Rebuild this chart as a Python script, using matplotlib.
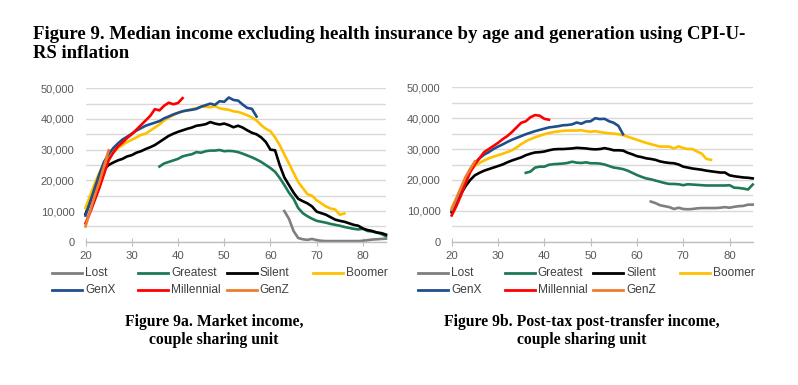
import matplotlib.pyplot as plt
from matplotlib.lines import Line2D

# ---- data ----
ages_lost = list(range(63, 86))
ages_greatest = list(range(36, 86))
ages_silent = list(range(20, 86))
ages_boomer = list(range(20, 77))
ages_genx = list(range(20, 58))
ages_millennial = list(range(20, 42))
ages_genz = list(range(20, 26))

# Figure 9a: market income
mkt_lost = [10000, 7500, 3500, 1200, 800, 600, 900, 500, 300, 200, 200, 200, 200, 200,
            200, 200, 200, 300, 500, 700, 800, 900, 1000]
mkt_greatest = [24500, 25500, 26000, 26500, 27000, 27800, 28200, 28500, 29200, 29000,
                29500, 29700, 29700, 29900, 29500, 29600, 29500, 29200, 28700, 28100,
                27500, 26800, 26000, 25000, 24000, 22800, 20800, 18500, 16000, 14000,
                11000, 9300, 8300, 7500, 6800, 6500, 6200, 5800, 5500, 5200,
                4800, 4500, 4200, 4000, 4200, 3500, 3300, 3000, 2500, 1800]
mkt_silent = [9000, 13000, 17000, 21000, 23500, 25000, 25800, 26500, 27000, 27800,
              28200, 29000, 29500, 30200, 30800, 31500, 32500, 33500, 34500, 35200,
              35800, 36300, 36800, 37200, 37800, 38000, 38300, 39000, 38500, 38200,
              38500, 38000, 37300, 37800, 37200, 36300, 35500, 35000, 34000, 32500,
              30000, 29800, 25000, 21000, 18500, 16000, 14000, 13200, 12500, 11500,
              9800, 9300, 8800, 8000, 7200, 6800, 6500, 6000, 5500, 5200,
              4300, 3800, 3500, 3000, 2800, 2300]
mkt_boomer = [11000, 15000, 19000, 22500, 25500, 27500, 29000, 30500, 31500, 32500,
              33200, 34000, 34800, 35200, 36200, 37200, 38200, 39500, 40500, 41200,
              42000, 42500, 42800, 43200, 43500, 44000, 44000, 43800, 44200, 43500,
              43200, 43000, 42500, 42300, 41800, 41200, 40500, 39500, 38000, 36800,
              36000, 34000, 31500, 28500, 25500, 22500, 19500, 17500, 15500, 15000,
              13500, 12500, 11500, 10800, 10500, 8800, 9200]
mkt_genx = [8500, 13000, 17500, 22000, 26000, 28500, 30500, 32000, 33300, 34200,
            35200, 36200, 37000, 37800, 38300, 38800, 39300, 40200, 40800, 41500,
            42000, 42500, 42800, 43000, 43300, 44000, 44500, 45000, 44600, 45800,
            45600, 47000, 46200, 46000, 44700, 43600, 43300, 40800]
mkt_millennial = [6000, 9500, 13500, 17500, 22000, 26500, 29000, 31000, 32300, 33800,
                  35000, 36500, 38000, 39500, 41000, 43200, 42800, 44300, 45300, 44800,
                  45200, 46800]
mkt_genz = [5000, 10000, 15000, 19500, 24500, 29800]

# Figure 9b: post-tax post-transfer income
ptt_lost = [13000, 12500, 11800, 11500, 11200, 10600, 11000, 10600, 10500, 10600,
            10800, 10900, 10900, 10900, 10900, 11000, 11200, 11000, 11300, 11500,
            11600, 12000, 12000]
ptt_greatest = [22300, 22700, 24000, 24300, 24300, 24900, 25100, 25200, 25300, 25500,
                25900, 25600, 25500, 25700, 25400, 25400, 25300, 25000, 24500, 24000,
                23800, 23500, 23000, 22300, 21600, 21000, 20500, 20200, 19800, 19400,
                19000, 18700, 18700, 18600, 18300, 18600, 18500, 18400, 18300, 18200,
                18200, 18200, 18200, 18200, 18300, 17500, 17400, 17200, 16900, 18500]
ptt_silent = [9500, 13000, 15500, 18000, 20000, 21500, 22300, 23000, 23500, 24000,
              24500, 25000, 25700, 26300, 26800, 27300, 28000, 28500, 28900, 29000,
              29200, 29600, 29900, 30000, 30000, 30100, 30200, 30400, 30300, 30200,
              30000, 29900, 30000, 30300, 30000, 29600, 29600, 29500, 28800, 28300,
              27700, 27400, 27000, 26800, 26500, 26000, 25700, 25500, 25400, 25000,
              24300, 24000, 23700, 23500, 23300, 23000, 22800, 22600, 22400, 22400,
              21500, 21200, 21000, 20800, 20700, 20500]
ptt_boomer = [11000, 14000, 17500, 20500, 23000, 24500, 25500, 26300, 27000, 27500,
              28000, 28500, 29000, 29600, 30500, 31600, 32500, 33200, 33800, 34300,
              34800, 35200, 35500, 35700, 35900, 36000, 36000, 36000, 36100, 35800,
              35600, 35800, 35500, 35300, 35100, 35000, 34800, 34500, 34000, 33500,
              33000, 32500, 32000, 31600, 31200, 30800, 30800, 30800, 30200, 30900,
              30300, 30000, 30000, 29200, 28500, 26800, 26500]
ptt_genx = [10000, 13500, 17000, 20500, 23500, 25500, 27000, 28200, 29000, 30000,
            30800, 31500, 32300, 33000, 33600, 34200, 34800, 35300, 35800, 36200,
            36600, 37000, 37200, 37400, 37700, 37800, 38000, 38600, 38200, 38900,
            39000, 40000, 39700, 39800, 39000, 38500, 37500, 34800]
ptt_millennial = [8500, 11500, 15000, 19000, 22500, 25000, 27000, 29000, 30000, 31000,
                  32000, 33200, 34200, 35500, 37000, 38500, 39000, 40300, 41000, 40800,
                  39800, 39500]
ptt_genz = [10500, 14000, 17500, 21000, 23500, 26000]

names = ["Lost", "Greatest", "Silent", "Boomer", "GenX", "Millennial", "GenZ"]
colors = ["#7f7f7f", "#1d7a55", "#000000", "#ffc000", "#1f4e8c", "#ff0000", "#ed7d31"]
ages = [ages_lost, ages_greatest, ages_silent, ages_boomer, ages_genx, ages_millennial, ages_genz]
market = [mkt_lost, mkt_greatest, mkt_silent, mkt_boomer, mkt_genx, mkt_millennial, mkt_genz]
posttax = [ptt_lost, ptt_greatest, ptt_silent, ptt_boomer, ptt_genx, ptt_millennial, ptt_genz]

plt.rcParams['font.family'] = ['Liberation Sans', 'DejaVu Sans']

fig = plt.figure(figsize=(7.98, 3.85), dpi=100)
W, H = 798, 385


def px_axes(x0, x1, ytop, ybot):
    return fig.add_axes([x0 / W, 1 - ybot / H, (x1 - x0) / W, (ybot - ytop) / H])


def style_axes(ax):
    ax.set_xlim(20, 85)
    ax.set_ylim(0, 50000)
    ax.set_xticks(range(20, 90, 10))
    ax.set_yticks(range(0, 50001, 10000))
    ax.set_yticks(range(0, 50001, 5000), minor=True)
    ax.set_yticklabels([f"{v:,}" for v in range(0, 50001, 10000)])
    ax.grid(axis='y', which='both', color='#d9d9d9', linewidth=1.0)
    ax.set_axisbelow(True)
    for s in ['top', 'right', 'left']:
        ax.spines[s].set_visible(False)
    ax.spines['bottom'].set_color('#bfbfbf')
    ax.spines['bottom'].set_linewidth(1.0)
    ax.tick_params(axis='y', which='both', length=0, pad=8, labelsize=8.0, labelcolor='#595959')
    ax.tick_params(axis='x', direction='inout', length=6, color='#bfbfbf', pad=4,
                   labelsize=8.2, labelcolor='#595959')


def draw_legend(ax):
    cols = [-0.112, 0.176, 0.47, 0.757]
    rows = [-0.204, -0.315]
    for i, (name, c) in enumerate(zip(names, colors)):
        x = cols[i % 4]
        y = rows[i // 4]
        ax.add_line(Line2D([x, x + 0.1], [y, y], color=c, lw=2.0,
                           transform=ax.transAxes, clip_on=False))
        ax.text(x + 0.11, y, name, transform=ax.transAxes, fontsize=8.6,
                color='#404040', va='center', ha='left')


ax1 = px_axes(85.5, 386, 88.3, 241.7)
ax2 = px_axes(451.7, 752.7, 87.3, 241.7)

for ax, data in [(ax1, market), (ax2, posttax)]:
    style_axes(ax)
    for a, v, c in zip(ages, data, colors):
        ax.plot(a, v, color=c, lw=1.9, solid_joinstyle='round', clip_on=False)
    draw_legend(ax)

title_kw = dict(family=['Liberation Serif', 'DejaVu Serif'], fontweight='bold')
fig.text(33 / W, 1 - 39 / H, "Figure 9. Median income excluding health insurance by age and generation using CPI-U-",
         fontsize=13.5, va='baseline', ha='left', **title_kw)
fig.text(33 / W, 1 - 58 / H, "RS inflation", fontsize=13.5, va='baseline', ha='left', **title_kw)

fig.text(214 / W, 1 - 326 / H, "Figure 9a. Market income,", fontsize=11.3, va='baseline', ha='center', **title_kw)
fig.text(214 / W, 1 - 344 / H, "couple sharing unit", fontsize=11.3, va='baseline', ha='center', **title_kw)
fig.text(582 / W, 1 - 326 / H, "Figure 9b. Post-tax post-transfer income,", fontsize=11.3, va='baseline', ha='center', **title_kw)
fig.text(582 / W, 1 - 344 / H, "couple sharing unit", fontsize=11.3, va='baseline', ha='center', **title_kw)

fig.savefig("out.png", dpi=100)
